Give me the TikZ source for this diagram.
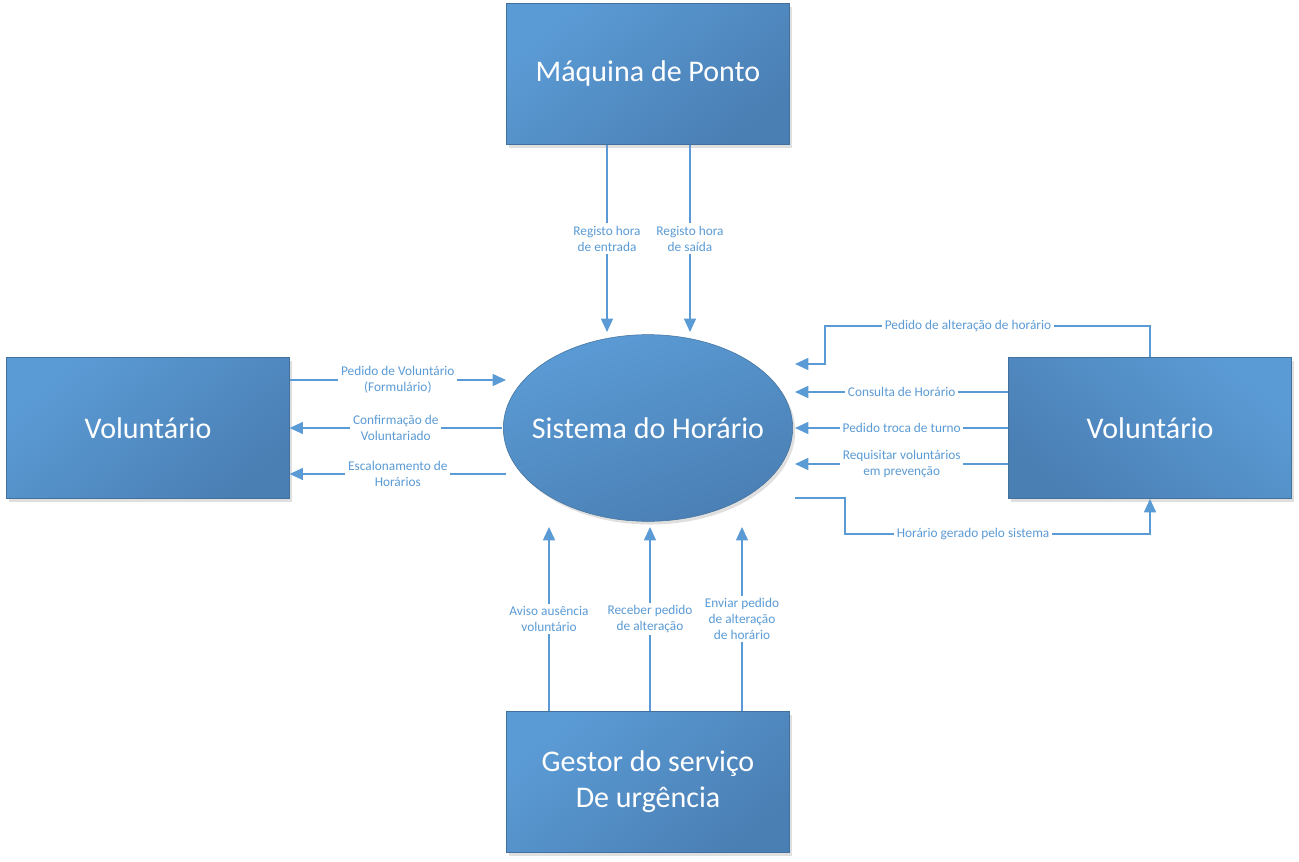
\documentclass[tikz,border=0pt]{standalone}
\usepackage{fontspec}
\setmainfont{Carlito}
\usetikzlibrary{positioning,shapes,shadows,arrows.meta}
\definecolor{boxlight}{HTML}{5B9BD5}
\definecolor{boxdark}{HTML}{4A7FB4}
\definecolor{boxedge}{HTML}{41719C}
\definecolor{flowc}{HTML}{5B9BD5}
\begin{document}
\begin{tikzpicture}[x=0.75pt,y=-0.75pt,
        ds/.style={drop shadow={shadow xshift=.4ex, shadow yshift=-.5ex,
            opacity=.25}},
        entity/.style={rectangle,draw=boxedge,minimum width=212pt,
            minimum height=106pt,top color=boxlight,bottom color=boxdark,
            shading angle=40,text=white,align=center,
            font=\fontsize{22.5}{27}\selectfont,ds},
        process/.style={ellipse,draw=boxedge,minimum width=217pt,
            minimum height=140pt,inner sep=0pt,top color=boxlight,
            bottom color=boxdark,shading angle=20,ds},
        ptext/.style={text=white,font=\fontsize{22.5}{27}\selectfont},
        flow/.style={draw=flowc,line width=1.1pt,
            -{Triangle[length=10pt,width=9pt]}},
        lbl/.style={fill=white,text=flowc,align=center,inner sep=2pt,
            font=\fontsize{10}{12}\selectfont}
    ]
\useasboundingbox (0,0) rectangle (1299,862);

% entities and process
\node[entity] (ponto) at (648,74) {Máquina de Ponto};
\node[entity] (lvol) at (148,428) {Voluntário};
\node[entity,shading angle=-40] (rvol) at (1150,428) {Voluntário};
\node[entity] (gestor) at (648,782) {Gestor do serviço\\De urgência};
\node[process,label={[ptext]center:Sistema do Horário}] (sistema) at (648,428) {};

% free ends of the flows
\coordinate (he) at (607,332);
\coordinate (hs) at (690,332);
\coordinate (pf) at (506,380);
\coordinate (cv) at (502,428);
\coordinate (eh) at (506,474);
\coordinate (pa) at (795,364);
\coordinate (k1) at (825,326);
\coordinate (ch) at (795,392);
\coordinate (tt) at (795,428);
\coordinate (rv) at (795,464);
\coordinate (hg) at (795,498);
\coordinate (k2) at (845,534);
\coordinate (aa) at (549,527);
\coordinate (rp) at (650,527);
\coordinate (ep) at (742,527);

% top
\draw[flow] (ponto.south -| he) -- node[lbl]{Registo hora\\de entrada} (he);
\draw[flow] (ponto.south -| hs) -- node[lbl]{Registo hora\\de saída} (hs);

% left
\draw[flow] (lvol.east |- pf) -- node[lbl]{Pedido de Voluntário\\(Formulário)} (pf);
\draw[flow] (cv) -- node[lbl]{Confirmação de\\Voluntariado} (lvol.east |- cv);
\draw[flow] (eh) -- node[lbl]{Escalonamento de\\Horários} (lvol.east |- eh);

% right
\draw[flow] (rvol.north) |- node[lbl,pos=.78]{Pedido de alteração de horário} (k1)
    -- (k1 |- pa) -- (pa);
\draw[flow] (rvol.west |- ch) -- node[lbl]{Consulta de Horário} (ch);
\draw[flow] (rvol.west |- tt) -- node[lbl]{Pedido troca de turno} (tt);
\draw[flow] (rvol.west |- rv) -- node[lbl]{Requisitar voluntários\\em prevenção} (rv);
\draw[flow] (hg) -- (hg -| k2) -- (k2)
    -- node[lbl,pos=.42]{Horário gerado pelo sistema} (k2 -| rvol.south)
    -- (rvol.south);

% bottom
\draw[flow] (gestor.north -| aa) -- node[lbl]{Aviso ausência\\voluntário} (aa);
\draw[flow] (gestor.north -| rp) -- node[lbl]{Receber pedido\\de alteração} (rp);
\draw[flow] (gestor.north -| ep) -- node[lbl]{Enviar pedido\\de alteração\\de horário} (ep);
\end{tikzpicture}
\end{document}
